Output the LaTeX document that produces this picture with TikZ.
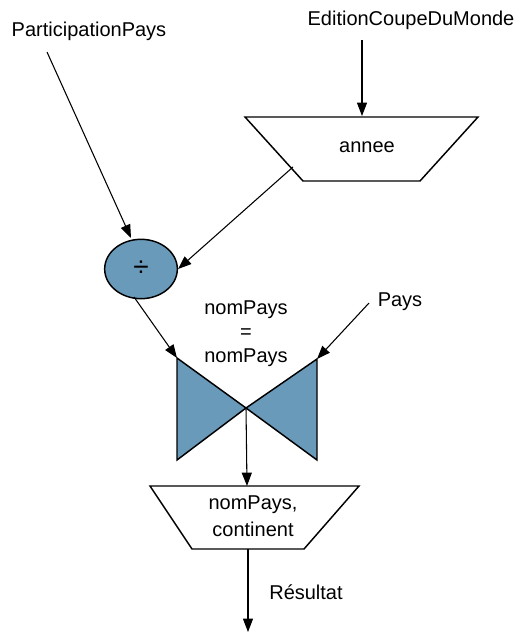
\documentclass[tikz,border=0pt]{standalone}
\usepackage{fontspec}
\setmainfont{Liberation Sans}
\usetikzlibrary{arrows.meta,shapes.geometric}
\definecolor{opblue}{HTML}{6A9ABA}
\begin{document}
\begin{tikzpicture}[x=0.75pt,y=-0.75pt,
  lbl/.style={inner sep=0pt,font=\fontsize{15}{19}\selectfont,align=center},
  conn/.style={line width=0.8pt,-{Triangle[length=10pt,width=7.5pt]}},
  shp/.style={draw=black,line width=1.1pt,line join=miter},
  opfill/.style={shp,fill=opblue}]
\useasboundingbox (0,0) rectangle (517,632);
% labels
\node[lbl] (pp) at (89,31) {ParticipationPays};
\node[lbl] (ecm) at (411,20) {EditionCoupeDuMonde};
\node[lbl] (pays) at (400,302) {Pays};
\node[lbl] (cond) at (246,334) {nomPays\\[-1pt]=\\[-1pt]nomPays};
% projection annee
\draw[shp] (245,117) -- (478,117) -- (420,181) -- (303,181) -- cycle;
\node[lbl] (annee) at (367,147) {annee};
\coordinate (anneeTop) at (362,116);
\coordinate (anneeSide) at (293,167);
% division
\node[opfill,ellipse,minimum width=54.5pt,minimum height=44.5pt,inner sep=0pt,
  font=\fontsize{21}{24}\selectfont] (div) at (141,269) {÷};
% join
\draw[opfill] (177,358) -- (246,408) -- (177,460) -- cycle;
\draw[opfill] (317,359) -- (246,408) -- (317,460) -- cycle;
\coordinate (joinL) at (177,358);
\coordinate (joinR) at (317,359);
\coordinate (joinC) at (246,408);
% projection final
\draw[shp] (150,486) -- (359,486) -- (304,549) -- (192,549) -- cycle;
\node[lbl] (proj) at (253,516) {nomPays,\\[1pt]continent};
\coordinate (projTop) at (247,486);
\coordinate (projBot) at (248,549);
\coordinate (out) at (248,632);
\node[lbl] (res) at (306,592) {Résultat};
% connectors
\coordinate (ppS) at (47,52);
\coordinate (ecmS) at (362,40);
\coordinate (paysS) at (369,303);
\coordinate (divB) at (134,297);
\coordinate (divT) at (131,238);
\draw[conn] (ecmS) -- (anneeTop);
\draw[conn] (ppS) -- (divT);
\draw[conn] (anneeSide) -- (div.east);
\draw[conn] (divB) -- (joinL);
\draw[conn] (paysS) -- (joinR);
\draw[conn] (joinC) -- (projTop);
\draw[conn] (projBot) -- (out);
\end{tikzpicture}
\end{document}
